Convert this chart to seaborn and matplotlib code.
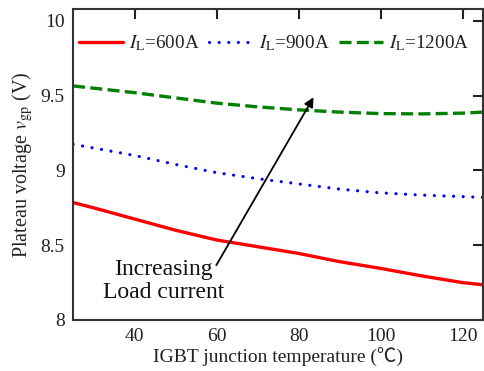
import matplotlib
matplotlib.use("Agg")
import matplotlib.pyplot as plt
import seaborn as sns
import pandas as pd

temps = [25, 30, 40, 50, 60, 70, 80, 90, 100, 110, 120, 125]
v_600 = [8.785, 8.75, 8.675, 8.60, 8.535, 8.49, 8.445, 8.39, 8.345, 8.295, 8.25, 8.235]
v_900 = [9.175, 9.15, 9.10, 9.04, 8.985, 8.945, 8.91, 8.875, 8.85, 8.835, 8.825, 8.82]
v_1200 = [9.565, 9.55, 9.52, 9.485, 9.45, 9.425, 9.405, 9.39, 9.38, 9.378, 9.383, 9.39]
labels = [r'$I_{\mathrm{L}}$=600A', r'$I_{\mathrm{L}}$=900A', r'$I_{\mathrm{L}}$=1200A']
colors = ['#ff0000', '#0000ff', '#008000']
xticks = [40, 60, 80, 100, 120]
yticks = [8, 8.5, 9, 9.5, 10]
ytick_labels = ['8', '8.5', '9', '9.5', '10']

sns.set_style("white")
plt.rcParams['font.family'] = ['Liberation Serif', 'Noto Sans CJK SC', 'DejaVu Sans']
plt.rcParams['mathtext.fontset'] = 'stix'

fig = plt.figure(figsize=(4.84, 3.71), dpi=100)
ax = fig.add_axes([0.151, 0.1375, 0.847, 0.8385])

series = [v_600, v_900, v_1200]
for i, (vals, lab, c) in enumerate(zip(series, labels, colors)):
    df = pd.DataFrame({'T': temps, 'V': vals})
    sns.lineplot(data=df, x='T', y='V', ax=ax, color=c, linewidth=2.4,
                 label=lab, estimator=None)
    ln = ax.lines[-1]
    if i == 1:
        ln.set_linewidth(2.3)
        ln.set_dashes([0.01, 3.0])
        ln.set_dash_capstyle('round')
    elif i == 2:
        ln.set_dashes([3.6, 1.6])

ax.set_xlim(25, 125)
ax.set_ylim(8, 10.08)
ax.set_xticks(xticks)
ax.set_yticks(yticks)
ax.set_yticklabels(ytick_labels)
ax.tick_params(direction='in', length=7, width=1.5, labelsize=14, colors='#222222',
               top=True, right=True, pad=6)
ax.tick_params(axis='x', labeltop=False)
ax.tick_params(axis='y', labelright=False)
for s in ax.spines.values():
    s.set_visible(True)
    s.set_color('#333333')
    s.set_linewidth(1.5)

ax.set_xlabel('IGBT junction temperature (℃)', fontsize=14, color='#222222', labelpad=2)
ax.set_ylabel(r'Plateau voltage $v_{\mathrm{gp}}$ (V)', fontsize=14.5, color='#222222', labelpad=4)

leg = ax.legend(loc='center left', bbox_to_anchor=(0.0, 0.89), ncol=3, frameon=False,
                fontsize=13.8, handlelength=2.3, columnspacing=0.5, handletextpad=0.3,
                borderaxespad=0.0, borderpad=0.3)
for t in leg.get_texts():
    t.set_color('#222222')

ax.annotate('', xy=(84.0, 9.505), xytext=(59.6, 8.35),
            arrowprops=dict(arrowstyle='-|>', color='black', lw=1.3, mutation_scale=14))
ax.text(47, 8.26, 'Increasing\nLoad current', fontsize=17, ha='center', va='center',
        linespacing=1.1, color='#111111')

fig.savefig('out.png', dpi=100)
